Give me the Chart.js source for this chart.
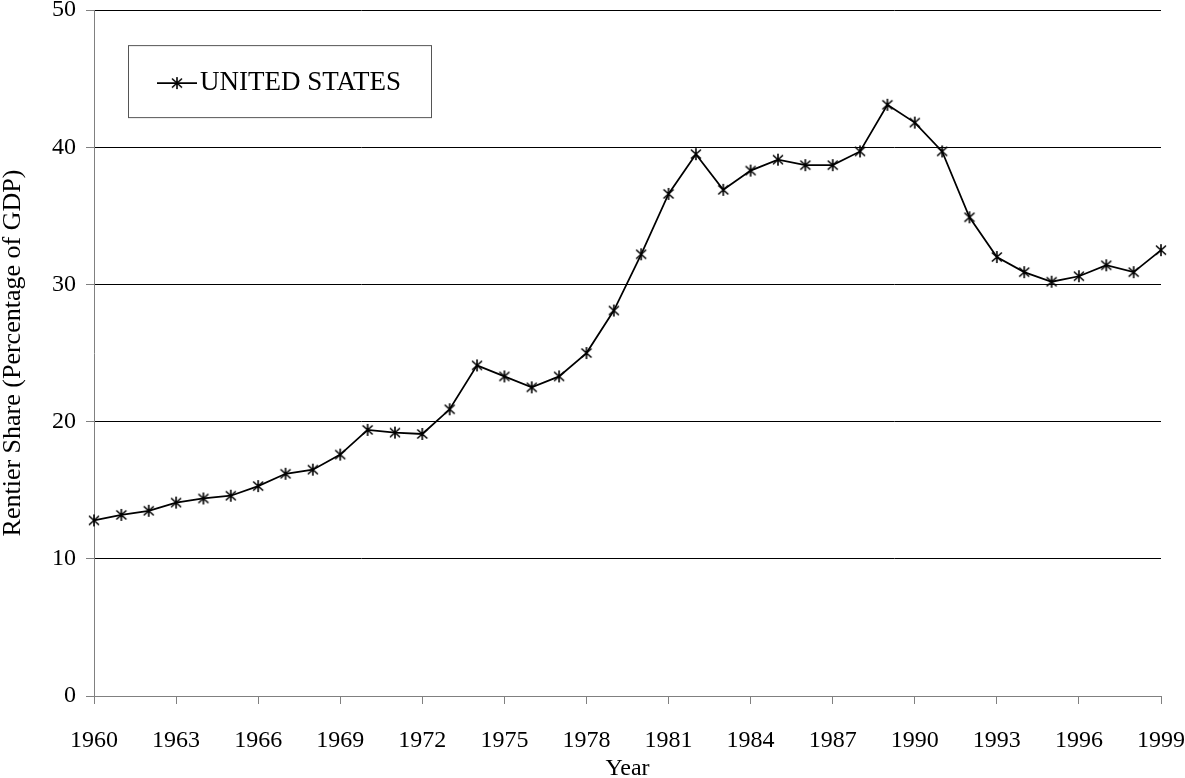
<!DOCTYPE html>
<html>
<head>
<meta charset="utf-8">
<script src="https://cdn.jsdelivr.net/npm/chart.js@4.4.1/dist/chart.umd.min.js"></script>
<style>
	body { margin: 0; background: #fff; }
	#wrap { width: 1185px; height: 778px; position: relative; }
</style>
</head>
<body>
<div id="wrap"><canvas id="rentierChart"></canvas></div>
<script>
const years = ['1960', '1961', '1962', '1963', '1964', '1965', '1966', '1967', '1968', '1969',
	'1970', '1971', '1972', '1973', '1974', '1975', '1976', '1977', '1978', '1979',
	'1980', '1981', '1982', '1983', '1984', '1985', '1986', '1987', '1988', '1989',
	'1990', '1991', '1992', '1993', '1994', '1995', '1996', '1997', '1998', '1999'];
const usShare = [12.8, 13.2, 13.5, 14.1, 14.4, 14.6, 15.3, 16.2, 16.5, 17.6,
	19.4, 19.2, 19.1, 20.9, 24.1, 23.3, 22.5, 23.3, 25.0, 28.1,
	32.2, 36.6, 39.5, 36.9, 38.3, 39.1, 38.7, 38.7, 39.7, 43.1,
	41.8, 39.7, 34.9, 32.0, 30.9, 30.2, 30.6, 31.4, 30.9, 32.5];
const xTickLabels = ['1960', '1963', '1966', '1969', '1972', '1975', '1978',
	'1981', '1984', '1987', '1990', '1993', '1996', '1999'];
const yTickValues = [0, 10, 20, 30, 40, 50];

const FONT = 'Liberation Serif, Times New Roman, serif';

// asterisk marker like the old spreadsheet one: X plus a vertical bar
function makeAsterisk() {
	const c = document.createElement('canvas');
	c.width = 14;
	c.height = 14;
	const g = c.getContext('2d');
	g.strokeStyle = '#000';
	g.lineWidth = 1.6;
	g.beginPath();
	g.moveTo(7, 1); g.lineTo(7, 13);
	g.moveTo(2, 2.5); g.lineTo(12, 11.5);
	g.moveTo(12, 2.5); g.lineTo(2, 11.5);
	g.stroke();
	return c;
}
const asterisk = makeAsterisk();

const boxLegend = {
	id: 'boxLegend',
	afterDraw(chart) {
		const { ctx, chartArea } = chart;
		const x = chartArea.left + 34;
		const y = chartArea.top + 35;
		const w = 303;
		const h = 72;
		ctx.save();
		ctx.fillStyle = '#fff';
		ctx.fillRect(x, y, w, h);
		ctx.strokeStyle = '#555';
		ctx.lineWidth = 1;
		ctx.strokeRect(x + 0.5, y + 0.5, w, h);
		const cy = y + 38;
		ctx.strokeStyle = '#000';
		ctx.lineWidth = 1.75;
		ctx.beginPath();
		ctx.moveTo(x + 29, cy);
		ctx.lineTo(x + 69, cy);
		ctx.stroke();
		ctx.drawImage(asterisk, x + 49 - 7, cy - 7);
		ctx.fillStyle = '#000';
		ctx.font = '27px ' + FONT;
		ctx.textBaseline = 'middle';
		ctx.fillText(chart.data.datasets[0].label, x + 72, cy);
		ctx.restore();
	}
};

const ctx = document.getElementById('rentierChart').getContext('2d');
new Chart(ctx, {
	type: 'line',
	data: {
		labels: years,
		datasets: [
			{
				label: 'UNITED STATES',
				data: usShare,
				borderColor: '#000',
				borderWidth: 1.75,
				pointStyle: asterisk,
				pointRadius: 6,
				tension: 0
			}
		]
	},
	options: {
		responsive: true,
		maintainAspectRatio: false,
		animation: false,
		layout: { padding: 0 },
		plugins: {
			legend: { display: false },
			tooltip: { enabled: false }
		},
		scales: {
			x: {
				afterFit: (scale) => { scale.height = 82; },
				grid: {
					drawOnChartArea: false,
					color: '#808080',
					tickLength: 8
				},
				border: { color: '#808080' },
				ticks: {
					autoSkip: false,
					maxRotation: 0,
					color: '#000',
					padding: 0,
					// tall line box pushes the labels down without widening the side padding
					font: { family: FONT, size: 24, lineHeight: 3.05 },
					callback: function (val) {
						const lbl = this.getLabelForValue(val);
						return xTickLabels.includes(lbl) ? lbl : null;
					}
				},
				title: {
					display: true,
					text: 'Year',
					color: '#000',
					padding: 0,
					font: { family: FONT, size: 24, lineHeight: 0.8 }
				}
			},
			y: {
				min: 0,
				max: 50,
				afterFit: (scale) => { scale.width = 94; },
				afterBuildTicks: (scale) => {
					scale.ticks = yTickValues.map((v) => ({ value: v }));
				},
				grid: {
					color: (c) => (c.tick && c.tick.value === 0 ? '#808080' : '#000'),
					tickColor: '#808080',
					tickLength: 8
				},
				border: { color: '#808080' },
				ticks: {
					color: '#000',
					padding: 10,
					font: { family: FONT, size: 24, lineHeight: 0.01 }
				},
				title: {
					display: true,
					text: 'Rentier Share (Percentage of GDP)',
					color: '#000',
					padding: 0,
					font: { family: FONT, size: 26, lineHeight: 1 }
				}
			}
		}
	},
	plugins: [boxLegend]
});
</script>
</body>
</html>
